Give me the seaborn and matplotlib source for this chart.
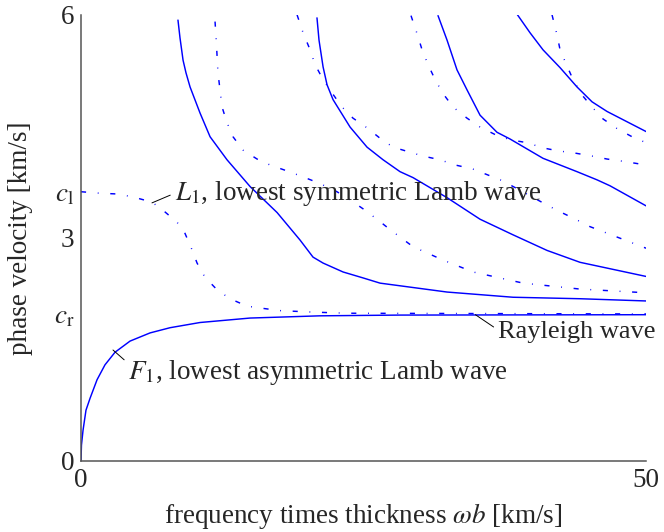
import numpy as np
import pandas as pd
import matplotlib
matplotlib.use("Agg")
import matplotlib.pyplot as plt
import seaborn as sns

# phase velocity curves (x = omega*b, y = km/s)
c_l = 3.62
c_r = 1.97

F1_x = [0, 0.04, 0.18, 0.44, 0.80, 1.42, 2.12, 3.01, 4.34, 6.11, 7.88, 10.53, 14.96, 21.15, 28.23, 50]
F1_y = [0, 0.21, 0.41, 0.68, 0.84, 1.09, 1.29, 1.46, 1.61, 1.72, 1.79, 1.86, 1.92, 1.95, 1.96, 1.965]

F2_x = [8.58, 8.76, 9.03, 9.29, 9.65, 10.53, 11.42, 12.92, 14.96, 17.35, 19.38, 20.53, 21.42, 23.19, 24.96, 26.46, 32.39, 38.23, 44.16, 50]
F2_y = [5.93, 5.69, 5.39, 5.22, 5.03, 4.68, 4.36, 4.05, 3.69, 3.34, 2.97, 2.74, 2.66, 2.54, 2.46, 2.39, 2.27, 2.20, 2.18, 2.15]

F3_x = [20.88, 21.06, 21.42, 21.77, 22.30, 23.81, 25.31, 26.73, 28.23, 29.38, 32.39, 35.31, 38.23, 41.24, 44.16, 50]
F3_y = [5.96, 5.66, 5.30, 5.06, 4.86, 4.49, 4.22, 4.05, 3.89, 3.81, 3.54, 3.25, 3.04, 2.83, 2.67, 2.48]

F4_x = [31.59, 32.39, 33.27, 34.16, 35.31, 36.81, 37.96, 40.88, 43.89, 45.66, 46.81, 50]
F4_y = [5.99, 5.66, 5.26, 4.99, 4.65, 4.42, 4.33, 4.07, 3.89, 3.78, 3.70, 3.43]

F5_x = [38.58, 39.73, 40.88, 42.39, 43.89, 45.22, 46.55, 50]
F5_y = [6.01, 5.76, 5.53, 5.29, 5.03, 4.83, 4.70, 4.43]

L1_x = [0, 1.68, 3.19, 4.60, 6.28, 7.26, 8.50, 9.20, 9.82, 10.27, 10.97, 12.04, 13.19, 14.69, 16.11, 17.61, 20.53, 23.54, 50]
L1_y = [3.62, 3.60, 3.59, 3.55, 3.48, 3.37, 3.21, 3.06, 2.84, 2.66, 2.47, 2.30, 2.18, 2.08, 2.05, 2.02, 2.00, 1.985, 1.975]

L2_x = [11.86, 11.95, 12.12, 12.30, 12.48, 12.92, 13.45, 14.34, 15.58, 16.73, 18.23, 19.65, 21.15, 22.65, 23.81, 24.96, 26.19, 27.35, 29.38, 32.04, 34.69, 39.12, 44.16, 50]
L2_y = [5.91, 5.70, 5.22, 4.99, 4.76, 4.55, 4.36, 4.18, 4.06, 3.98, 3.90, 3.82, 3.73, 3.62, 3.51, 3.39, 3.25, 3.11, 2.88, 2.70, 2.54, 2.39, 2.31, 2.26]

L3_x = [19.12, 19.65, 20.27, 20.71, 21.42, 22.21, 23.10, 24.07, 25.31, 26.46, 27.61, 28.94, 30.27, 31.77, 33.10, 34.60, 35.93, 37.26, 38.85, 41.24, 42.39, 43.89, 45.04, 50]
L3_y = [6.0, 5.76, 5.53, 5.33, 5.13, 4.95, 4.76, 4.61, 4.48, 4.34, 4.22, 4.16, 4.10, 4.05, 3.98, 3.93, 3.85, 3.77, 3.64, 3.44, 3.35, 3.24, 3.15, 2.86]

L4_x = [29.20, 29.73, 30.18, 30.71, 31.33, 32.04, 32.92, 34.16, 35.31, 36.64, 37.96, 39.47, 40.88, 42.21, 43.72, 45.22, 46.55, 47.96, 50]
L4_y = [5.99, 5.75, 5.53, 5.33, 5.13, 4.94, 4.76, 4.61, 4.49, 4.39, 4.32, 4.28, 4.21, 4.17, 4.14, 4.10, 4.06, 4.03, 3.98]

L5_x = [41.68, 42.12, 42.39, 43.01, 43.54, 44.34, 45.22, 46.19, 47.43, 48.76, 50]
L5_y = [6.0, 5.73, 5.53, 5.31, 5.13, 4.92, 4.76, 4.60, 4.47, 4.36, 4.28]

curves = {
    "F1": (F1_x, F1_y, "asym"), "F2": (F2_x, F2_y, "asym"), "F3": (F3_x, F3_y, "asym"),
    "F4": (F4_x, F4_y, "asym"), "F5": (F5_x, F5_y, "asym"),
    "L1": (L1_x, L1_y, "sym"), "L2": (L2_x, L2_y, "sym"), "L3": (L3_x, L3_y, "sym"),
    "L4": (L4_x, L4_y, "sym"), "L5": (L5_x, L5_y, "sym"),
}
frames = []
for name, (xs, ys, kind) in curves.items():
    frames.append(pd.DataFrame({"wb": xs, "v": ys, "mode": name, "kind": kind}))
df = pd.concat(frames, ignore_index=True)

sns.set_style("white")
plt.rcParams["font.family"] = ["Liberation Serif", "DejaVu Serif"]
plt.rcParams["mathtext.fontset"] = "stix"
fs = 19.5

fig = plt.figure(figsize=(6.64, 5.32), dpi=100)
ax = fig.add_axes([0.122, 0.134, 0.851, 0.838])

sns.lineplot(data=df, x="wb", y="v", units="mode", estimator=None, sort=False,
             style="kind", dashes={"asym": "", "sym": (3.5, 8, 0.6, 8)},
             color="#0000ff", lw=1.05, legend=False, ax=ax)

ax.set_xlim(0, 50)
ax.set_ylim(0, 6)
ax.set_xticks([0, 50])
ax.set_xticklabels(["0", "50"])
ax.set_yticks([0, c_r, 3, c_l, 6])
ax.set_yticklabels(["0", r"$c_\mathrm{r}$", "3", r"$c_\mathrm{l}$", "6"])
ax.tick_params(direction="in", length=4, width=1, color="#555555", labelsize=fs, pad=5)

for s in ["top", "right"]:
    ax.spines[s].set_visible(False)
for s in ["left", "bottom"]:
    ax.spines[s].set_color("#555555")
    ax.spines[s].set_linewidth(1.1)

ax.set_xlabel(r"frequency times thickness $\omega b$ [km/s]", fontsize=fs, labelpad=6)
ax.set_ylabel("phase velocity [km/s]", fontsize=fs, labelpad=15)

ax.annotate(r"$L_1$, lowest symmetric Lamb wave", xy=(6.28, 3.47), xytext=(8.3, 3.60),
            fontsize=fs, ha="left", va="center",
            arrowprops=dict(arrowstyle="-", color="k", lw=0.7, shrinkA=1, shrinkB=0, relpos=(0, 0.5)))
ax.annotate(r"$F_1$, lowest asymmetric Lamb wave", xy=(2.83, 1.49), xytext=(4.2, 1.19),
            fontsize=fs, ha="left", va="center",
            arrowprops=dict(arrowstyle="-", color="k", lw=0.7, shrinkA=1, shrinkB=0, relpos=(0, 0.8)))
ax.annotate("Rayleigh wave", xy=(34.9, 1.965), xytext=(36.9, 1.73),
            fontsize=19, ha="left", va="center", annotation_clip=False,
            arrowprops=dict(arrowstyle="-", color="k", lw=0.7, shrinkA=1, shrinkB=0, relpos=(0, 0.6)))

fig.savefig("out.png", dpi=100)
